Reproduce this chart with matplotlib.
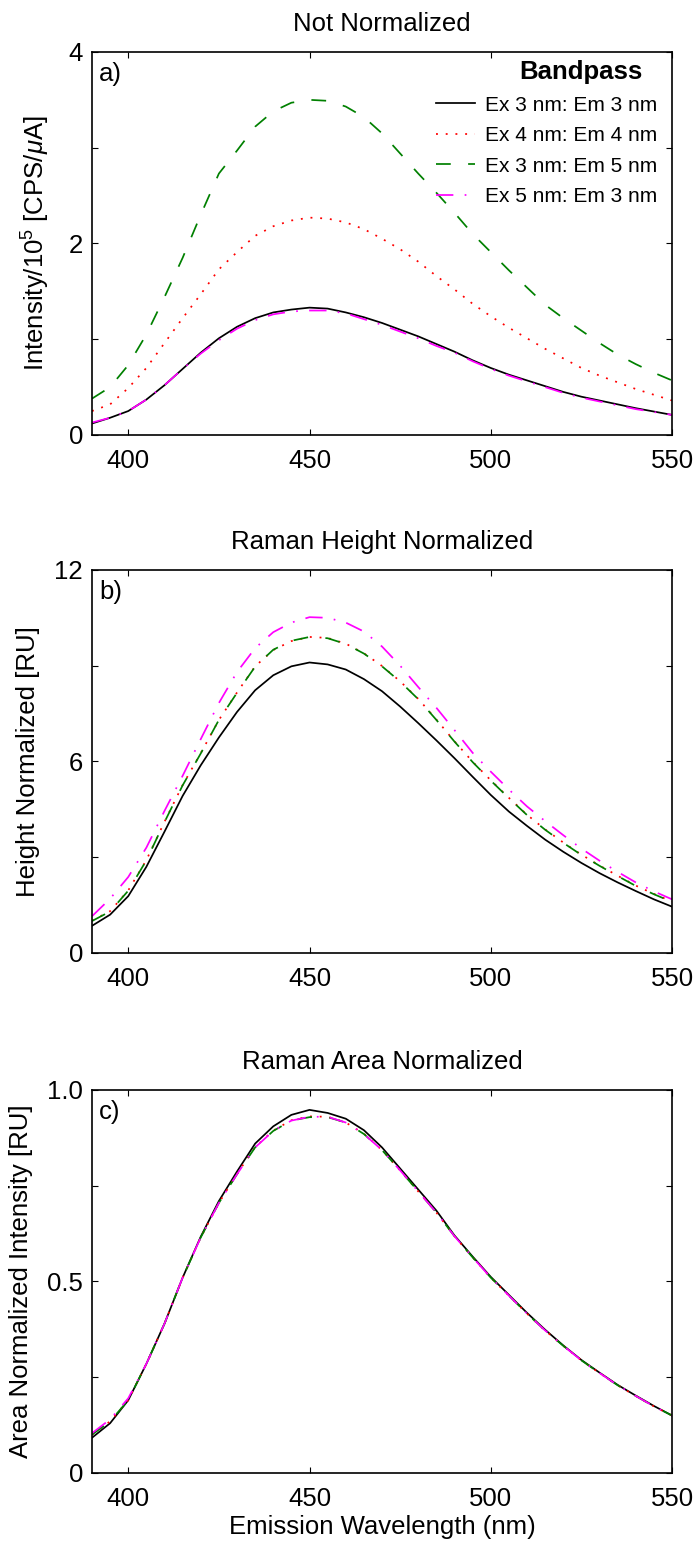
import matplotlib
matplotlib.use('Agg')
import matplotlib.pyplot as plt
from matplotlib.ticker import FixedLocator, FixedFormatter

plt.rcParams['font.family'] = ['Liberation Sans', 'DejaVu Sans']
plt.rcParams['mathtext.fontset'] = 'custom'
plt.rcParams['mathtext.rm'] = 'Liberation Sans'
plt.rcParams['mathtext.it'] = 'Liberation Sans:italic'

# ---------------- data ----------------
wavelength = list(range(390, 551, 5))

series_labels = ['Ex 3 nm: Em 3 nm', 'Ex 4 nm: Em 4 nm',
                 'Ex 3 nm: Em 5 nm', 'Ex 5 nm: Em 3 nm']

# a) Not normalized (x 1e5 CPS/uA)
a_ex3em3 = [0.12, 0.18, 0.25, 0.37, 0.52, 0.69, 0.86, 1.01, 1.13, 1.22, 1.28, 1.31, 1.33,
            1.32, 1.28, 1.23, 1.17, 1.10, 1.03, 0.95, 0.87, 0.78, 0.70, 0.63, 0.57, 0.51,
            0.45, 0.40, 0.36, 0.32, 0.28, 0.245, 0.21]
a_ex4em4 = [0.25, 0.32, 0.49, 0.70, 0.96, 1.22, 1.47, 1.73, 1.91, 2.08, 2.18, 2.24, 2.27,
            2.26, 2.22, 2.15, 2.05, 1.94, 1.81, 1.66, 1.52, 1.37, 1.24, 1.12, 1.01, 0.90,
            0.80, 0.70, 0.62, 0.55, 0.48, 0.42, 0.36]
a_ex3em5 = [0.38, 0.50, 0.73, 1.05, 1.44, 1.85, 2.30, 2.73, 2.97, 3.22, 3.38, 3.47, 3.50,
            3.49, 3.43, 3.32, 3.15, 2.94, 2.73, 2.53, 2.32, 2.10, 1.91, 1.72, 1.54, 1.36,
            1.22, 1.09, 0.96, 0.84, 0.74, 0.65, 0.57]
a_ex5em3 = [0.13, 0.18, 0.25, 0.37, 0.52, 0.69, 0.85, 0.99, 1.11, 1.20, 1.26, 1.29, 1.30,
            1.30, 1.27, 1.21, 1.15, 1.08, 1.01, 0.93, 0.86, 0.77, 0.69, 0.62, 0.56, 0.50,
            0.44, 0.39, 0.35, 0.31, 0.27, 0.24, 0.21]

# b) Raman height normalized [RU]
b_ex3em3 = [0.85, 1.20, 1.78, 2.70, 3.80, 4.92, 5.88, 6.75, 7.55, 8.23, 8.70, 8.98, 9.10,
            9.04, 8.88, 8.58, 8.20, 7.72, 7.20, 6.66, 6.10, 5.52, 4.95, 4.43, 3.98, 3.55,
            3.17, 2.82, 2.50, 2.21, 1.94, 1.68, 1.45]
b_ex4em4 = [1.01, 1.31, 1.96, 2.91, 4.11, 5.26, 6.26, 7.30, 8.16, 8.98, 9.49, 9.77, 9.90,
            9.87, 9.69, 9.39, 8.99, 8.51, 7.96, 7.31, 6.63, 5.99, 5.41, 4.86, 4.33, 3.87,
            3.46, 3.08, 2.74, 2.42, 2.11, 1.85, 1.61]
b_ex3em5 = [1.00, 1.30, 1.95, 2.90, 4.10, 5.25, 6.25, 7.30, 8.15, 8.97, 9.50, 9.78, 9.90,
            9.86, 9.68, 9.38, 8.98, 8.50, 7.95, 7.30, 6.62, 5.98, 5.40, 4.85, 4.32, 3.86,
            3.45, 3.07, 2.73, 2.41, 2.10, 1.84, 1.60]
b_ex5em3 = [1.15, 1.70, 2.38, 3.30, 4.45, 5.55, 6.70, 7.83, 8.80, 9.55, 10.05, 10.35, 10.52,
            10.50, 10.35, 10.07, 9.60, 9.00, 8.33, 7.68, 6.98, 6.27, 5.68, 5.12, 4.59, 4.13,
            3.69, 3.27, 2.89, 2.54, 2.21, 1.93, 1.68]

# c) Raman area normalized [RU]
c_ex3em3 = [0.092, 0.13, 0.19, 0.285, 0.39, 0.51, 0.617, 0.71, 0.787, 0.86, 0.905, 0.935,
            0.948, 0.94, 0.925, 0.895, 0.85, 0.795, 0.74, 0.685, 0.62, 0.565, 0.512, 0.465,
            0.418, 0.374, 0.333, 0.295, 0.262, 0.23, 0.202, 0.175, 0.15]
c_ex4em4 = [0.100, 0.135, 0.19, 0.285, 0.39, 0.51, 0.615, 0.705, 0.781, 0.851, 0.894, 0.921,
            0.931, 0.930, 0.915, 0.886, 0.843, 0.790, 0.735, 0.680, 0.618, 0.563, 0.510,
            0.463, 0.416, 0.372, 0.332, 0.294, 0.261, 0.229, 0.201, 0.174, 0.15]
c_ex3em5 = [0.100, 0.135, 0.19, 0.285, 0.39, 0.51, 0.615, 0.705, 0.780, 0.850, 0.893, 0.920,
            0.929, 0.929, 0.915, 0.885, 0.843, 0.790, 0.735, 0.680, 0.618, 0.563, 0.510,
            0.463, 0.416, 0.372, 0.332, 0.294, 0.261, 0.229, 0.201, 0.174, 0.15]
c_ex5em3 = [0.104, 0.14, 0.195, 0.285, 0.39, 0.51, 0.615, 0.705, 0.780, 0.850, 0.893, 0.920,
            0.930, 0.930, 0.915, 0.885, 0.843, 0.790, 0.735, 0.680, 0.618, 0.563, 0.510,
            0.463, 0.416, 0.372, 0.332, 0.294, 0.261, 0.229, 0.201, 0.174, 0.15]

panel_titles = ['Not Normalized', 'Raman Height Normalized', 'Raman Area Normalized']
panel_tags = ['a)', 'b)', 'c)']
ylabels = [r'Intensity/10$^5$ [CPS/$\mu$A]', 'Height Normalized [RU]',
           'Area Normalized Intensity [RU]']
xticks = [400, 450, 500, 550]
yticks = [[0, 1, 2, 3, 4], [0, 3, 6, 9, 12], [0, 0.25, 0.5, 0.75, 1.0]]
yticklabels = [['0', '', '2', '', '4'], ['0', '', '6', '', '12'],
               ['0', '', '0.5', '', '1.0']]
ylims = [(0, 4), (0, 12), (0, 1.0)]
panels = [[a_ex3em3, a_ex4em4, a_ex3em5, a_ex5em3],
          [b_ex3em3, b_ex4em4, b_ex3em5, b_ex5em3],
          [c_ex3em3, c_ex4em4, c_ex3em5, c_ex5em3]]

# ---------------- styling ----------------
colors = ['#000000', '#ff0000', '#008000', '#ff00ff']
linestyles = ['-', (0, (1.1, 4.5)), (0, (8.5, 10.0)), (0, (10.0, 6.5, 1.0, 6.5))]
lw = 1.25
fs = 18.5
labelpads = [12, 10, 10]

fig = plt.figure(figsize=(6.98, 15.42), dpi=100)
left, width, height = 0.1318, 0.831, 0.2484
bottoms = [0.7179, 0.3820, 0.04475]

for i in range(3):
    ax = fig.add_axes([left, bottoms[i], width, height])
    for j, ys in enumerate(panels[i]):
        ax.plot(wavelength, ys, color=colors[j], linestyle=linestyles[j], lw=lw,
                label=series_labels[j])
    ax.set_xlim(390, 550)
    ax.set_ylim(*ylims[i])
    ax.xaxis.set_major_locator(FixedLocator(xticks))
    ax.yaxis.set_major_locator(FixedLocator(yticks[i]))
    ax.yaxis.set_major_formatter(FixedFormatter(yticklabels[i]))
    ax.tick_params(direction='in', length=4, width=0.8, top=True, right=True,
                   labelsize=fs)
    ax.tick_params(axis='y', pad=6.5)
    ax.tick_params(axis='x', pad=10)
    for s in ax.spines.values():
        s.set_linewidth(1.2)
    ax.set_title(panel_titles[i], fontsize=fs, pad=15)
    ax.set_ylabel(ylabels[i], fontsize=fs, labelpad=labelpads[i])
    ax.text(0.012, 0.943, panel_tags[i], transform=ax.transAxes, fontsize=fs,
            ha='left', va='center')
    if i == 0:
        ax.legend(loc='upper right', bbox_to_anchor=(0.975, 0.886), frameon=False,
                  fontsize=15, handlelength=1.87, handletextpad=0.48, labelspacing=0.55,
                  borderpad=0, borderaxespad=0)
        ax.text(0.843, 0.948, 'Bandpass', transform=ax.transAxes, fontsize=fs,
                fontweight='bold', ha='center', va='center')
    if i == 2:
        ax.set_xlabel('Emission Wavelength (nm)', fontsize=fs, labelpad=3)

fig.savefig('out.png', dpi=100)
